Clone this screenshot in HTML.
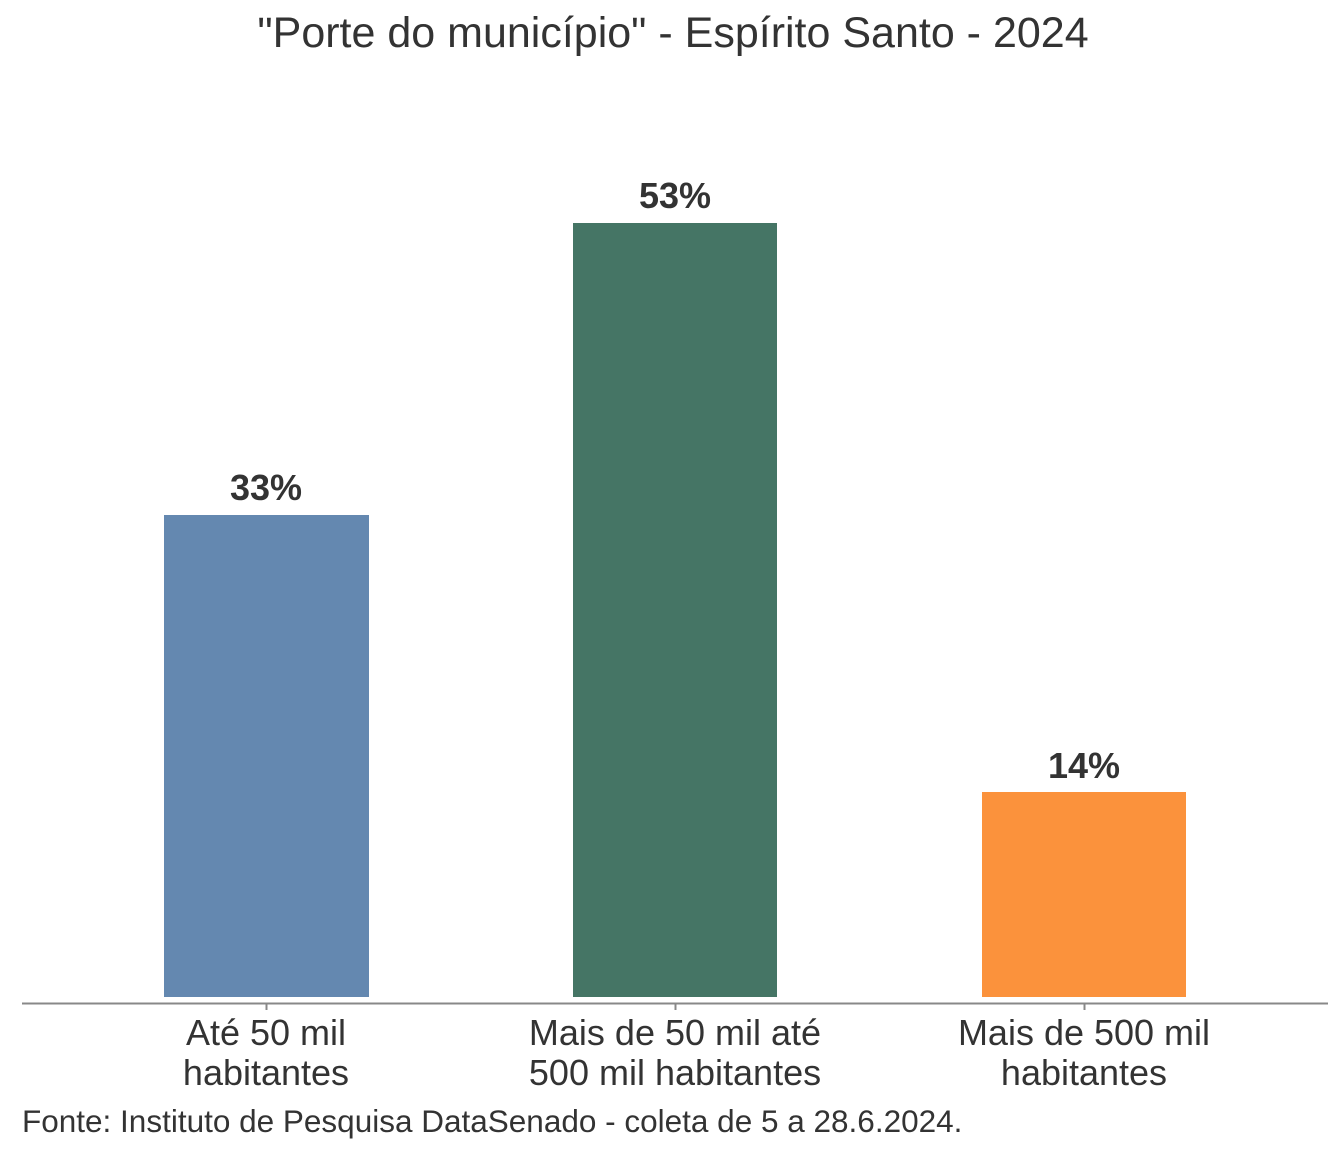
<!DOCTYPE html>
<html><head><meta charset="utf-8"><style>html,body{margin:0;padding:0;background:#fff}svg{display:block}</style></head>
<body>
<svg width="1344" height="1152" viewBox="0 0 1344 1152" xmlns="http://www.w3.org/2000/svg" font-family="Liberation Sans, Arial, sans-serif">
<rect width="1344" height="1152" fill="#fff"/>
<text x="673" y="47" text-anchor="middle" font-size="43" fill="#333">"Porte do município" - Espírito Santo - 2024</text>
<rect x="164" y="515" width="205" height="482" fill="#6488b0"/>
<rect x="573" y="223" width="204" height="774" fill="#457565"/>
<rect x="982" y="792" width="204" height="205" fill="#fb923c"/>
<g font-size="36" font-weight="bold" fill="#333" text-anchor="middle">
<text x="266" y="500">33%</text>
<text x="675" y="208">53%</text>
<text x="1084" y="778">14%</text>
</g>
<line x1="22" y1="1003.5" x2="1328" y2="1003.5" stroke="#888" stroke-width="2"/>
<g stroke="#888" stroke-width="2">
<line x1="266.5" y1="1003" x2="266.5" y2="1010"/>
<line x1="675.5" y1="1003" x2="675.5" y2="1010"/>
<line x1="1084.5" y1="1003" x2="1084.5" y2="1010"/>
</g>
<g font-size="36" fill="#333" text-anchor="middle">
<text x="266" y="1045">Até 50 mil</text>
<text x="266" y="1085">habitantes</text>
<text x="675" y="1045">Mais de 50 mil até</text>
<text x="675" y="1085">500 mil habitantes</text>
<text x="1084" y="1045">Mais de 500 mil</text>
<text x="1084" y="1085">habitantes</text>
</g>
<text x="22" y="1132" font-size="31.5" fill="#333">Fonte: Instituto de Pesquisa DataSenado - coleta de 5 a 28.6.2024.</text>
</svg>
</body></html>
